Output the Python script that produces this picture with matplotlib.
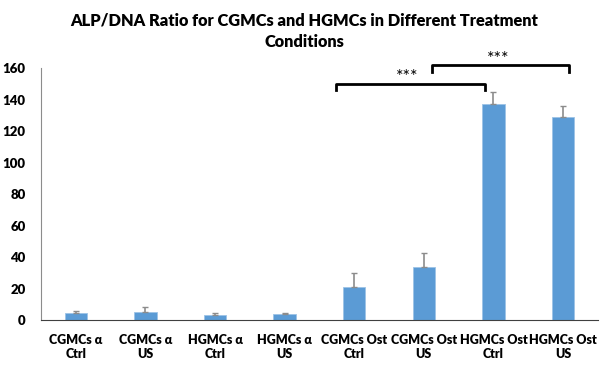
import matplotlib.pyplot as plt
import numpy as np

# ALP/DNA ratio per condition, upper error only
labels = ['CGMCs α\nCtrl', 'CGMCs α\nUS', 'HGMCs α\nCtrl', 'HGMCs α\nUS',
          'CGMCs Ost\nCtrl', 'CGMCs Ost\nUS', 'HGMCs Ost\nCtrl', 'HGMCs Ost\nUS']
ratio = [4.4, 5.3, 3.2, 3.6, 21.2, 33.4, 137.0, 129.0]
err = [1.5, 2.7, 1.0, 1.0, 8.8, 9.3, 7.8, 7.0]

plt.rcParams['font.family'] = ['Lato', 'DejaVu Sans']

fig = plt.figure(figsize=(6.08, 3.70), dpi=100)
ax = fig.add_axes([0.0674, 0.135, 0.916, 0.681])

x = np.arange(len(labels))
ax.bar(x, ratio, width=0.32, color='#5B9BD5', edgecolor='#9DC3E6', linewidth=0.6,
       yerr=[np.zeros(len(err)), err], error_kw=dict(ecolor='#8C8C8C', elinewidth=1.2, capsize=2.5, capthick=1))

ax.set_xlim(-0.5, 7.5)
ax.set_ylim(0, 160)
ax.set_yticks(range(0, 161, 20))
ax.set_xticks(x)
ax.set_xticklabels(labels, fontsize=9, fontweight='heavy')
for t in ax.get_yticklabels():
    t.set_fontsize(9.5)
    t.set_fontweight('heavy')
ax.tick_params(length=0, pad=10)
ax.tick_params(axis='y', pad=11)
for s in ['top', 'right']:
    ax.spines[s].set_visible(False)
ax.spines['left'].set_color('#8C8C8C')
ax.spines['bottom'].set_color('#404040')

# title centred on the figure, not the axes
ax.set_title('ALP/DNA Ratio for CGMCs and HGMCs in Different Treatment\nConditions',
             fontsize=11.8, fontweight='heavy', pad=15, linespacing=1.45,
             x=(0.5 - 0.0674) / 0.916)

# significance brackets
ax.plot([3.74, 3.74, 5.88, 5.88], [146, 150, 150, 146], color='black', lw=2, clip_on=False)
ax.text(4.76, 149, '***', ha='center', va='bottom', fontsize=13)
ax.plot([5.11, 5.11, 7.08, 7.08], [157.5, 162, 162, 157.5], color='black', lw=2, clip_on=False)
ax.text(6.07, 161, '***', ha='center', va='bottom', fontsize=13)

fig.savefig('out.png', dpi=100)
